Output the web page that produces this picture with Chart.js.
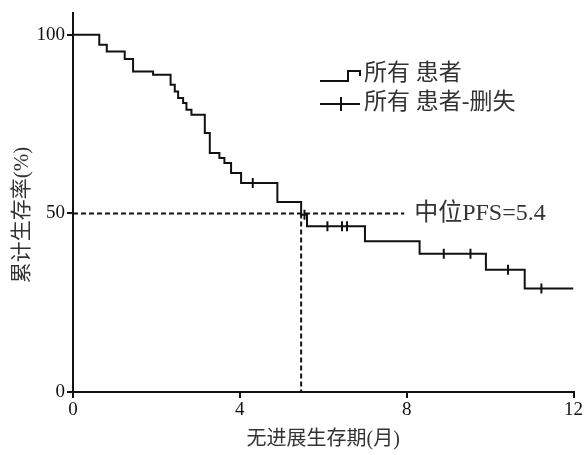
<!DOCTYPE html>
<html>
<head>
<meta charset="utf-8">
<script src="https://cdn.jsdelivr.net/npm/chart.js@4/dist/chart.umd.min.js"></script>
<style>
  body { margin: 0; background: #ffffff; }
  #wrap { width: 584px; height: 455px; }
</style>
</head>
<body>
<div id="wrap"><canvas id="km-chart" width="584" height="455"></canvas></div>
<script>
// =========================================================
// DATA
// Kaplan-Meier curve: month of each drop
// and the survival (%) right after it.
// =========================================================
const months = [0, 0.63, 0.81, 1.24, 1.44, 1.92, 2.34, 2.44, 2.52, 2.64, 2.72, 2.84,
  3.16, 3.28, 3.51, 3.63, 3.79, 4.03, 4.90, 5.47, 5.61, 7.00, 8.31, 9.90, 10.83, 12];
const survival = [100, 97.2, 95.3, 93.2, 89.7, 88.8, 86.0, 84.1, 82.3, 80.9, 79.0, 77.6,
  72.5, 66.9, 65.5, 64.1, 61.3, 58.5, 53.2, 49.6, 46.4, 42.2, 38.7, 34.2, 29.0, 29.0];

// censored patients (the little vertical ticks)
const censorMonths = [4.31, 5.55, 6.10, 6.45, 6.57, 8.89, 9.53, 10.43, 11.23];
const censorSurvival = [58.5, 49.6, 46.4, 46.4, 46.4, 38.7, 38.7, 34.2, 29.0];

// median PFS guide lines
const medianMonth = 5.47;
const medianLevel = 50;
const guideEnd = 7.94;
const medianLabel = "中位PFS=5.4";

// axes
const xTicks = [0, 4, 8, 12];
const yTicks = [0, 50, 100];
const xTitle = "无进展生存期(月)";
const yTitle = "累计生存率(%)";
const legendLabels = ["所有 患者", "所有 患者-删失"];

const INK = "#111111";
const TEXT = "#333333";
const FAMILY = "'Liberation Serif', 'Noto Sans CJK SC'";
const TICK_FONT = { family: FAMILY, size: 19 };
const TITLE_FONT = { family: FAMILY, size: 20 };

// HELPER: zip two arrays into {x, y} points
function toPoints(xs, ys) {
  return xs.map((x, i) => ({ x: x, y: ys[i] }));
}

// =========================================================
// PLUGIN: y title, median label + the hand-drawn style legend
// =========================================================
const annotations = {
  id: "annotations",
  afterDraw(chart) {
    const ctx = chart.ctx;
    const xs = chart.scales.x;
    const ys = chart.scales.y;

    ctx.save();
    ctx.fillStyle = TEXT;
    ctx.textBaseline = "middle";

    // y axis title, rotated, sitting a bit lower than the scale centre
    ctx.save();
    ctx.translate(22, 215);
    ctx.rotate(-Math.PI / 2);
    ctx.textAlign = "center";
    ctx.font = "21px " + FAMILY;
    ctx.fillText(yTitle, 0, 0);
    ctx.restore();

    ctx.textAlign = "left";
    ctx.font = "24px " + FAMILY;
    ctx.fillText(medianLabel, xs.getPixelForValue(guideEnd) + 10, ys.getPixelForValue(medianLevel));

    // legend row 1: step icon
    ctx.font = "23px " + FAMILY;
    ctx.strokeStyle = INK;
    ctx.lineWidth = 2;
    ctx.beginPath();
    ctx.moveTo(320, 81);
    ctx.lineTo(348, 81);
    ctx.lineTo(348, 71);
    ctx.lineTo(360, 71);
    ctx.lineTo(360, 76);
    ctx.stroke();
    ctx.fillText(legendLabels[0], 364, 74);

    // legend row 2: plus icon
    ctx.beginPath();
    ctx.moveTo(320, 104);
    ctx.lineTo(360, 104);
    ctx.moveTo(341, 97);
    ctx.lineTo(341, 111);
    ctx.stroke();
    ctx.fillText(legendLabels[1], 364, 103);
    ctx.restore();
  },
};

// =========================================================
// CHART
// =========================================================
const chart = new Chart(document.getElementById("km-chart"), {
  type: "line",
  data: {
    datasets: [
      {
        data: toPoints(months, survival),
        stepped: "before",
        borderColor: INK,
        borderWidth: 2,
        pointRadius: 0,
        fill: false,
      },
      {
        data: toPoints(censorMonths, censorSurvival),
        showLine: false,
        pointStyle: "line",
        rotation: 90,
        pointRadius: 5,
        pointBorderWidth: 2,
        pointBorderColor: INK,
      },
      {
        data: [{ x: 0, y: medianLevel }, { x: guideEnd, y: medianLevel }],
        borderColor: INK,
        borderWidth: 2,
        borderDash: [5, 3],
        pointRadius: 0,
      },
      {
        data: [{ x: medianMonth, y: medianLevel }, { x: medianMonth, y: 0 }],
        borderColor: INK,
        borderWidth: 2,
        borderDash: [5, 3],
        pointRadius: 0,
      },
    ],
  },
  options: {
    responsive: false,
    animation: false,
    layout: { padding: { left: 0, right: 9, top: 13, bottom: 0 } },
    plugins: { legend: { display: false }, tooltip: { enabled: false } },
    scales: {
      x: {
        type: "linear",
        min: 0,
        max: 12,
        afterBuildTicks: (scale) => { scale.ticks = xTicks.map((v) => ({ value: v })); },
        afterFit: (scale) => { scale.height = 63; },
        grid: { drawOnChartArea: false, drawTicks: true, tickLength: 6, color: INK, lineWidth: 2 },
        border: { display: true, color: INK, width: 2 },
        ticks: { color: INK, font: TICK_FONT, padding: 1, maxRotation: 0 },
        title: { display: true, text: xTitle, color: TEXT, font: TITLE_FONT, padding: { top: 0, bottom: 3 } },
      },
      y: {
        type: "linear",
        min: 0,
        max: 106,
        afterBuildTicks: (scale) => { scale.ticks = yTicks.map((v) => ({ value: v })); },
        afterFit: (scale) => { scale.width = 73; },
        grid: { drawOnChartArea: false, drawTicks: true, tickLength: 6, color: INK, lineWidth: 2 },
        border: { display: true, color: INK, width: 2 },
        ticks: { color: INK, font: TICK_FONT, padding: 2 },
        title: { display: false },
      },
    },
  },
  plugins: [annotations],
});
</script>
</body>
</html>
